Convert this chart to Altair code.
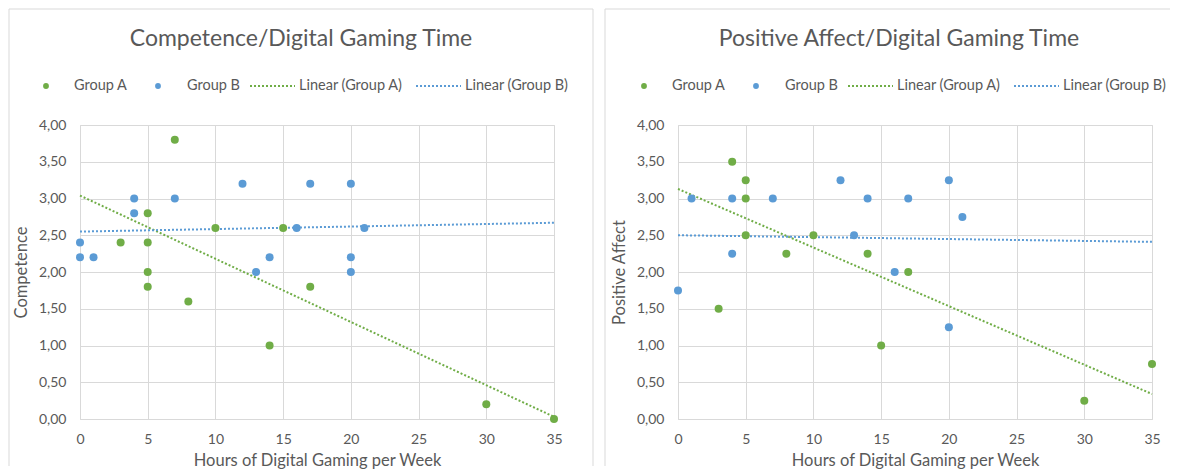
import altair as alt
import pandas as pd

# ---------------- data ----------------
groups = ["Group A", "Group B"]
green = "#70ad47"
blue = "#5b9bd5"

x_ticks = [0, 5, 10, 15, 20, 25, 30, 35]
y_ticks = [0, 0.5, 1, 1.5, 2, 2.5, 3, 3.5, 4]

# Competence panel
comp_a_hours = [3, 5, 5, 5, 5, 7, 8, 10, 14, 15, 17, 30, 35]
comp_a_vals = [2.4, 2.8, 2.4, 2.0, 1.8, 3.8, 1.6, 2.6, 1.0, 2.6, 1.8, 0.2, 0.0]
comp_b_hours = [0, 0, 1, 4, 4, 7, 12, 13, 14, 16, 17, 20, 20, 20, 21]
comp_b_vals = [2.4, 2.2, 2.2, 3.0, 2.8, 3.0, 3.2, 2.0, 2.2, 2.6, 3.2, 3.2, 2.2, 2.0, 2.6]
trend_hours = [0, 35]
comp_trend_a = [3.04, 0.03]
comp_trend_b = [2.55, 2.67]

# Positive affect panel
pa_a_hours = [3, 4, 5, 5, 5, 8, 10, 14, 15, 17, 30, 35]
pa_a_vals = [1.5, 3.5, 3.25, 3.0, 2.5, 2.25, 2.5, 2.25, 1.0, 2.0, 0.25, 0.75]
pa_b_hours = [0, 1, 4, 4, 7, 12, 13, 14, 16, 17, 20, 20, 21]
pa_b_vals = [1.75, 3.0, 3.0, 2.25, 3.0, 3.25, 2.5, 3.0, 2.0, 3.0, 3.25, 1.25, 2.75]
pa_trend_a = [3.13, 0.34]
pa_trend_b = [2.50, 2.41]

titles = ["Competence/Digital Gaming Time", "Positive Affect/Digital Gaming Time"]
y_titles = ["Competence", "Positive Affect"]
x_title = "Hours of Digital Gaming per Week"
legend_labels = ["Group A", "Group B", "Linear (Group A)", "Linear (Group B)"]

FONT = "Lato"
TXT = "#595959"
GRID = "#d9d9d9"
W, H = 474, 294


def panel(title, ytitle, a_h, a_v, b_h, b_v, ta, tb, left_x, right_x, draw_right):
    pts = pd.DataFrame({
        "hours": a_h + b_h,
        "value": a_v + b_v,
        "group": ["Group A"] * len(a_h) + ["Group B"] * len(b_h),
    })
    trend = pd.DataFrame({
        "hours": trend_hours + trend_hours,
        "value": ta + tb,
        "group": ["Group A"] * 2 + ["Group B"] * 2,
    })
    color = alt.Color("group:N", scale=alt.Scale(domain=groups, range=[green, blue]), legend=None)
    x = alt.X("hours:Q", scale=alt.Scale(domain=[0, 35], nice=False, zero=False),
              axis=alt.Axis(values=x_ticks, title=x_title, grid=True, gridColor=GRID,
                            domain=False, ticks=False, tickSize=0, labelPadding=13,
                            labelFlush=False, labelOverlap=False,
                            labelFont=FONT, labelFontSize=14, labelColor=TXT,
                            titleFont=FONT, titleFontSize=16.5, titleColor=TXT,
                            titleFontWeight="normal", titleX=W / 2, titleY=41,
                            titleBaseline="middle", titleAlign="center"))
    y = alt.Y("value:Q", scale=alt.Scale(domain=[0, 4], nice=False),
              axis=alt.Axis(values=y_ticks, title=ytitle, grid=True, gridColor=GRID,
                            domain=False, ticks=False, tickSize=0, labelPadding=14,
                            labelFlush=False, labelOverlap=False,
                            labelExpr="replace(format(datum.value, '.2f'), '.', ',')",
                            labelFont=FONT, labelFontSize=14, labelColor=TXT,
                            titleFont=FONT, titleFontSize=16.5, titleColor=TXT,
                            titleFontWeight="normal", titleX=-59, titleY=H / 2,
                            titleAngle=270, titleBaseline="middle", titleAlign="center"))

    lines = alt.Chart(trend).mark_line(strokeDash=[2, 2], strokeWidth=2).encode(
        x=x, y=y, color=color, detail="group:N")
    points = alt.Chart(pts).mark_circle(size=64, opacity=1).encode(x=x, y=y, color=color)

    deco_data = pd.DataFrame({"k": [0]})
    base = alt.Chart(deco_data)
    layers = [lines, points]
    # panel border (top, left, right)
    layers.append(base.mark_rule(color=GRID, strokeWidth=1).encode(
        x=alt.value(left_x), x2=alt.value(right_x), y=alt.value(-116)))
    layers.append(base.mark_rule(color=GRID, strokeWidth=1).encode(
        x=alt.value(left_x), y=alt.value(-116), y2=alt.value(341)))
    if draw_right:
        layers.append(base.mark_rule(color=GRID, strokeWidth=1).encode(
            x=alt.value(right_x), y=alt.value(-116), y2=alt.value(341)))
    # title
    layers.append(base.mark_text(font=FONT, fontSize=23, color=TXT, align="center",
                                 baseline="middle").encode(
        x=alt.value(221), y=alt.value(-86), text=alt.value(title)))
    # legend
    layers.append(base.mark_circle(size=34, opacity=1, color=green).encode(
        x=alt.value(-34), y=alt.value(-39)))
    layers.append(base.mark_circle(size=34, opacity=1, color=blue).encode(
        x=alt.value(78), y=alt.value(-39)))
    layers.append(base.mark_rule(color=green, strokeWidth=2, strokeDash=[2, 2]).encode(
        x=alt.value(170), x2=alt.value(215), y=alt.value(-39)))
    layers.append(base.mark_rule(color=blue, strokeWidth=2, strokeDash=[2, 2]).encode(
        x=alt.value(336), x2=alt.value(381), y=alt.value(-39)))
    for lx, lab in zip([-6, 107, 219, 385], legend_labels):
        layers.append(base.mark_text(font=FONT, fontSize=14.5, color=TXT, align="left",
                                     baseline="middle").encode(
            x=alt.value(lx), y=alt.value(-39), text=alt.value(lab)))

    return alt.layer(*layers).properties(width=W, height=H)


left = panel(titles[0], y_titles[0], comp_a_hours, comp_a_vals, comp_b_hours, comp_b_vals,
             comp_trend_a, comp_trend_b, -71, 513, True)
right = panel(titles[1], y_titles[1], pa_a_hours, pa_a_vals, pa_b_hours, pa_b_vals,
              pa_trend_a, pa_trend_b, -73, 492, False)

chart = alt.hconcat(left, right, spacing=10).properties(padding=0).configure_view(
    stroke=None).configure(background="white")

chart.save("out.html", embed_options={"renderer": "svg", "actions": False})
